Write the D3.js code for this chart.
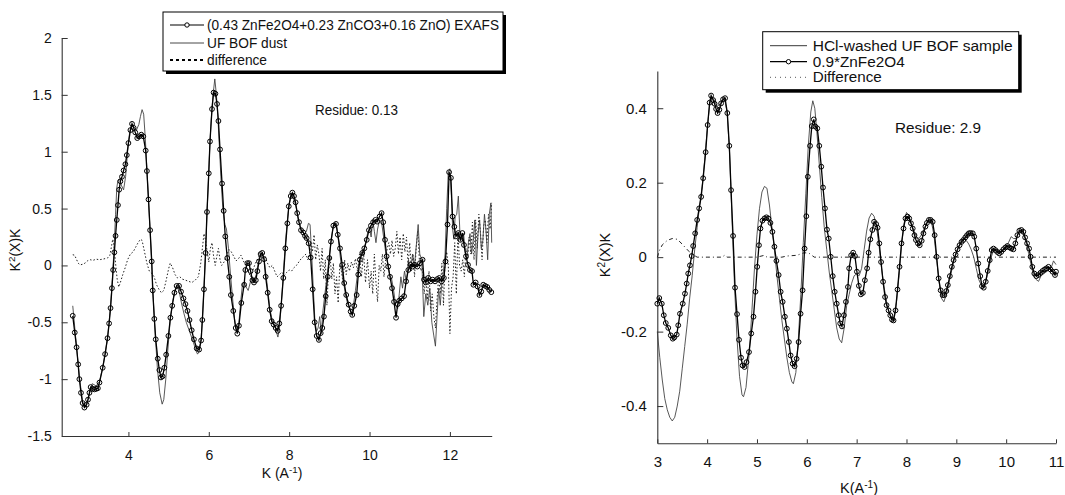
<!DOCTYPE html>
<html><head><meta charset="utf-8">
<script src="https://cdn.jsdelivr.net/npm/d3@7"></script>
<style>
body{margin:0;background:#fff}
svg text{font-family:"Liberation Sans",Arial,Helvetica,sans-serif;fill:#111}
</style>
</head><body>
<svg id="chart" width="1065" height="495"></svg>
<script>
// ---------------- DATA ----------------
// Left panel: Zn K-edge EXAFS of UF BOF dust
const leftFitLabel = "(0.43 ZnFe2O4+0.23 ZnCO3+0.16 ZnO) EXAFS";
const leftDataLabel = "UF BOF dust";
const leftDiffLabel = "difference";
const leftResidue = "Residue: 0.13";
const leftXTicks = [4, 6, 8, 10, 12];
const leftYTicks = [-1.5, -1, -0.5, 0, 0.5, 1, 1.5, 2];

const leftFit = [[2.615,-0.443],[2.665,-0.59],[2.71,-0.72],[2.75,-0.87],[2.78,-1.0],[2.82,-1.12],[2.86,-1.21],[2.905,-1.25],[2.96,-1.225],[2.995,-1.18],[3.03,-1.12],[3.06,-1.07],[3.11,-1.085],[3.155,-1.09],[3.20,-1.085],[3.24,-1.08],[3.28,-1.03],[3.36,-0.90],[3.42,-0.78],[3.48,-0.64],[3.52,-0.51],[3.555,-0.375],[3.59,-0.20],[3.62,-0.04],[3.65,0.115],[3.68,0.26],[3.71,0.40],[3.74,0.53],[3.77,0.666],[3.80,0.74],[3.84,0.78],[3.88,0.835],[3.925,0.89],[3.96,0.97],[4.0,1.076],[4.05,1.19],[4.09,1.245],[4.13,1.21],[4.17,1.17],[4.22,1.12],[4.27,1.135],[4.32,1.15],[4.37,1.135],[4.43,1.01],[4.46,0.83],[4.50,0.58],[4.54,0.31],[4.58,0.035],[4.605,-0.22],[4.645,-0.47],[4.68,-0.65],[4.73,-0.82],[4.77,-0.92],[4.81,-0.985],[4.85,-0.975],[4.895,-0.90],[4.94,-0.785],[4.995,-0.62],[5.045,-0.46],[5.09,-0.355],[5.145,-0.24],[5.20,-0.18],[5.26,-0.18],[5.31,-0.23],[5.37,-0.29],[5.42,-0.34],[5.47,-0.40],[5.52,-0.48],[5.575,-0.57],[5.63,-0.65],[5.70,-0.73],[5.76,-0.74],[5.81,-0.66],[5.84,-0.48],[5.88,-0.21],[5.92,0.11],[5.955,0.47],[6.0,0.81],[6.03,1.09],[6.08,1.375],[6.12,1.52],[6.165,1.51],[6.205,1.42],[6.24,1.27],[6.28,1.02],[6.33,0.72],[6.37,0.48],[6.41,0.255],[6.46,0.065],[6.51,-0.10],[6.55,-0.26],[6.61,-0.40],[6.67,-0.55],[6.71,-0.60],[6.75,-0.53],[6.81,-0.33],[6.88,-0.17],[6.91,-0.04],[6.96,0.02],[7.0,0.02],[7.04,-0.05],[7.085,-0.13],[7.125,-0.15],[7.17,-0.13],[7.21,-0.05],[7.25,0.035],[7.29,0.10],[7.33,0.11],[7.375,0.055],[7.415,-0.10],[7.465,-0.24],[7.515,-0.39],[7.565,-0.49],[7.615,-0.52],[7.665,-0.55],[7.715,-0.575],[7.755,-0.51],[7.80,-0.355],[7.855,-0.11],[7.905,0.15],[7.955,0.37],[7.99,0.52],[8.04,0.61],[8.08,0.64],[8.12,0.61],[8.16,0.555],[8.20,0.46],[8.245,0.38],[8.295,0.31],[8.35,0.29],[8.395,0.26],[8.435,0.24],[8.485,0.195],[8.535,0.07],[8.585,-0.21],[8.635,-0.50],[8.685,-0.62],[8.74,-0.655],[8.785,-0.595],[8.825,-0.55],[8.865,-0.45],[8.91,-0.27],[8.96,-0.10],[9.0,0.065],[9.04,0.21],[9.10,0.35],[9.165,0.365],[9.21,0.27],[9.265,0.15],[9.32,0.005],[9.37,-0.155],[9.42,-0.26],[9.48,-0.345],[9.53,-0.405],[9.57,-0.435],[9.62,-0.355],[9.68,-0.26],[9.72,-0.08],[9.76,0.05],[9.82,0.11],[9.87,0.15],[9.93,0.225],[9.985,0.31],[10.035,0.35],[10.09,0.38],[10.145,0.40],[10.19,0.385],[10.25,0.43],[10.30,0.46],[10.34,0.38],[10.385,0.225],[10.425,0.08],[10.465,-0.01],[10.51,-0.10],[10.56,-0.20],[10.61,-0.32],[10.66,-0.46],[10.70,-0.34],[10.74,-0.31],[10.80,-0.29],[10.86,-0.27],[10.91,-0.14],[10.965,-0.04],[11.02,0.005],[11.07,-0.01],[11.13,0.005],[11.19,-0.01],[11.255,0.02],[11.32,0.05],[11.355,-0.125],[11.40,-0.15],[11.46,-0.11],[11.52,-0.14],[11.57,-0.125],[11.63,-0.14],[11.685,-0.12],[11.735,-0.11],[11.795,-0.14],[11.85,-0.11],[11.89,0.035],[11.94,0.36],[11.98,0.82],[12.025,0.77],[12.065,0.43],[12.11,0.34],[12.15,0.255],[12.21,0.285],[12.26,0.225],[12.31,0.285],[12.35,0.18],[12.40,0.08],[12.45,0.005],[12.50,-0.04],[12.55,-0.05],[12.585,-0.17],[12.64,-0.15],[12.69,-0.185],[12.735,-0.26],[12.78,-0.23],[12.83,-0.17],[12.88,-0.18],[12.93,-0.19],[12.98,-0.215],[13.03,-0.235]];

const leftData = [[2.615,-0.355],[2.70,-0.68],[2.78,-0.98],[2.86,-1.20],[2.91,-1.24],[2.97,-1.21],[3.05,-1.10],[3.10,-1.04],[3.20,-1.06],[3.28,-1.02],[3.36,-0.90],[3.42,-0.78],[3.48,-0.64],[3.52,-0.50],[3.555,-0.36],[3.59,-0.18],[3.62,0.0],[3.65,0.20],[3.68,0.45],[3.71,0.68],[3.74,0.75],[3.78,0.76],[3.83,0.70],[3.88,0.665],[3.93,0.78],[3.98,1.0],[4.03,1.17],[4.08,1.24],[4.14,1.22],[4.20,1.19],[4.26,1.24],[4.30,1.31],[4.34,1.37],[4.38,1.33],[4.42,1.12],[4.46,0.85],[4.50,0.57],[4.54,0.30],[4.58,0.02],[4.62,-0.30],[4.67,-0.62],[4.72,-0.90],[4.78,-1.12],[4.84,-1.22],[4.88,-1.18],[4.93,-1.00],[4.98,-0.75],[5.04,-0.48],[5.10,-0.32],[5.16,-0.22],[5.22,-0.19],[5.27,-0.24],[5.32,-0.33],[5.38,-0.42],[5.44,-0.50],[5.50,-0.56],[5.56,-0.62],[5.62,-0.68],[5.68,-0.75],[5.72,-0.78],[5.77,-0.75],[5.81,-0.64],[5.85,-0.42],[5.89,-0.12],[5.93,0.22],[5.97,0.58],[6.01,0.92],[6.05,1.22],[6.10,1.48],[6.15,1.64],[6.19,1.50],[6.23,1.28],[6.27,1.00],[6.31,0.72],[6.35,0.50],[6.40,0.36],[6.44,0.32],[6.49,0.15],[6.54,-0.08],[6.60,-0.32],[6.65,-0.50],[6.70,-0.58],[6.75,-0.50],[6.80,-0.30],[6.84,-0.16],[6.88,-0.15],[6.93,-0.19],[6.98,-0.22],[7.04,-0.14],[7.09,-0.10],[7.13,-0.13],[7.18,-0.08],[7.22,0.0],[7.27,0.08],[7.32,0.10],[7.37,0.07],[7.42,-0.07],[7.47,-0.22],[7.52,-0.38],[7.57,-0.47],[7.62,-0.50],[7.67,-0.57],[7.72,-0.63],[7.76,-0.55],[7.80,-0.36],[7.85,-0.10],[7.90,0.16],[7.95,0.38],[8.00,0.53],[8.05,0.62],[8.09,0.60],[8.13,0.57],[8.18,0.50],[8.23,0.40],[8.28,0.34],[8.33,0.30],[8.38,0.28],[8.43,0.30],[8.48,0.37],[8.52,0.36],[8.56,0.10],[8.60,-0.20],[8.64,-0.48],[8.68,-0.58],[8.72,-0.55],[8.76,-0.45],[8.80,-0.60],[8.84,-0.40],[8.89,-0.25],[8.94,-0.10],[8.99,0.05],[9.04,0.20],[9.09,0.33],[9.14,0.38],[9.19,0.33],[9.24,0.18],[9.29,0.02],[9.34,-0.12],[9.40,-0.25],[9.45,-0.33],[9.50,-0.38],[9.55,-0.42],[9.60,-0.35],[9.65,-0.22],[9.70,-0.08],[9.75,0.05],[9.80,0.12],[9.85,0.08],[9.90,0.20],[9.95,0.28],[10.00,0.32],[10.04,0.25],[10.08,0.40],[10.12,0.30],[10.16,0.20],[10.20,0.32],[10.25,0.40],[10.30,0.38],[10.35,0.25],[10.40,0.12],[10.45,0.02],[10.50,-0.08],[10.55,-0.12],[10.60,-0.22],[10.65,-0.35],[10.70,-0.38],[10.74,-0.25],[10.78,-0.10],[10.82,-0.20],[10.87,-0.05],[10.92,-0.15],[10.97,0.05],[11.02,-0.05],[11.07,0.10],[11.12,0.0],[11.17,0.20],[11.21,0.36],[11.25,0.10],[11.30,0.05],[11.35,-0.45],[11.40,-0.25],[11.45,-0.35],[11.50,-0.20],[11.55,-0.50],[11.60,-0.62],[11.64,-0.71],[11.68,-0.45],[11.72,-0.20],[11.76,-0.35],[11.80,-0.15],[11.84,-0.05],[11.88,0.10],[11.92,0.50],[11.96,0.82],[12.00,0.85],[12.04,0.59],[12.07,0.31],[12.10,0.23],[12.13,0.43],[12.17,0.45],[12.21,0.61],[12.25,0.28],[12.30,0.22],[12.34,0.28],[12.38,0.12],[12.42,0.05],[12.46,0.20],[12.50,0.28],[12.54,0.10],[12.58,0.22],[12.62,0.40],[12.66,0.0],[12.70,0.28],[12.74,0.40],[12.78,0.15],[12.82,0.22],[12.86,0.45],[12.90,0.30],[12.94,0.05],[12.98,0.45],[13.02,0.55],[13.04,0.20]];

const leftDiff = [[2.615,0.094],[2.66,0.09],[2.70,0.06],[2.75,0.02],[2.80,0.005],[2.86,0.01],[2.92,0.02],[2.98,0.04],[3.05,0.05],[3.12,0.045],[3.20,0.055],[3.28,0.05],[3.36,0.055],[3.42,0.06],[3.48,0.065],[3.54,0.09],[3.58,0.17],[3.61,0.23],[3.64,0.18],[3.68,0.02],[3.72,-0.12],[3.76,-0.19],[3.80,-0.15],[3.86,-0.08],[3.92,-0.02],[3.98,0.05],[4.05,0.10],[4.12,0.12],[4.18,0.16],[4.24,0.20],[4.30,0.23],[4.34,0.22],[4.40,0.12],[4.46,0.02],[4.52,-0.05],[4.58,-0.07],[4.64,-0.10],[4.70,-0.17],[4.76,-0.21],[4.82,-0.24],[4.88,-0.22],[4.94,-0.13],[5.00,-0.03],[5.04,0.02],[5.10,-0.02],[5.16,-0.08],[5.22,-0.11],[5.28,-0.10],[5.34,-0.12],[5.42,-0.13],[5.50,-0.14],[5.58,-0.15],[5.66,-0.13],[5.74,-0.10],[5.80,0.02],[5.85,0.18],[5.88,0.28],[5.92,0.22],[5.96,0.12],[6.00,0.03],[6.04,0.15],[6.08,0.20],[6.12,0.08],[6.16,0.0],[6.20,0.08],[6.24,0.15],[6.28,0.05],[6.32,0.0],[6.38,0.03],[6.44,0.08],[6.50,0.14],[6.56,0.12],[6.62,0.08],[6.68,0.04],[6.74,0.06],[6.80,0.09],[6.86,0.04],[6.92,0.0],[6.98,-0.05],[7.04,-0.10],[7.10,-0.04],[7.16,0.02],[7.22,0.06],[7.28,0.10],[7.34,0.05],[7.40,0.08],[7.46,0.02],[7.52,-0.02],[7.58,0.0],[7.64,-0.05],[7.70,-0.10],[7.76,-0.08],[7.82,-0.06],[7.88,-0.09],[7.94,-0.06],[8.00,-0.04],[8.06,-0.05],[8.12,-0.02],[8.18,0.0],[8.24,0.03],[8.30,0.06],[8.36,0.08],[8.42,0.10],[8.46,0.05],[8.50,0.08],[8.54,0.20],[8.58,0.12],[8.62,0.27],[8.66,0.05],[8.70,0.18],[8.74,0.10],[8.78,-0.05],[8.82,0.15],[8.86,-0.12],[8.90,0.05],[8.94,-0.35],[8.98,-0.05],[9.02,0.08],[9.06,-0.12],[9.10,0.02],[9.14,-0.25],[9.18,-0.10],[9.22,-0.33],[9.26,0.0],[9.30,-0.05],[9.34,-0.15],[9.38,0.05],[9.42,-0.08],[9.46,0.02],[9.50,-0.05],[9.55,0.03],[9.60,-0.02],[9.65,0.06],[9.70,-0.05],[9.75,0.10],[9.80,-0.10],[9.85,0.12],[9.90,-0.15],[9.95,0.05],[10.00,-0.20],[10.04,-0.05],[10.08,-0.25],[10.12,0.10],[10.16,-0.15],[10.20,-0.32],[10.24,0.0],[10.28,-0.05],[10.32,0.10],[10.36,-0.10],[10.40,0.05],[10.44,0.15],[10.48,0.20],[10.52,0.10],[10.56,0.22],[10.60,0.08],[10.64,0.15],[10.68,0.30],[10.72,0.10],[10.76,0.25],[10.80,0.05],[10.84,0.28],[10.88,0.12],[10.92,0.25],[10.96,0.0],[11.00,0.20],[11.04,-0.05],[11.08,0.10],[11.12,-0.10],[11.16,0.15],[11.20,0.30],[11.24,0.05],[11.28,-0.05],[11.32,-0.02],[11.36,-0.25],[11.40,-0.10],[11.44,-0.30],[11.48,-0.05],[11.52,-0.40],[11.56,-0.25],[11.60,-0.45],[11.64,-0.55],[11.68,-0.30],[11.72,-0.10],[11.76,-0.25],[11.80,0.02],[11.84,-0.35],[11.88,0.05],[11.92,0.12],[11.96,0.0],[12.00,-0.60],[12.04,-0.20],[12.08,-0.10],[12.12,0.20],[12.16,-0.25],[12.20,0.30],[12.24,0.0],[12.28,-0.05],[12.32,0.05],[12.36,-0.10],[12.40,0.15],[12.44,0.05],[12.48,0.25],[12.52,0.10],[12.56,0.38],[12.60,0.05],[12.64,0.40],[12.68,0.15],[12.72,0.45],[12.76,0.30],[12.80,0.05],[12.84,0.35],[12.88,0.40],[12.92,0.20],[12.96,0.45],[13.00,0.32],[13.04,0.55]];

// Right panel: HCl-washed sample vs scaled ZnFe2O4
const rightDataLabel = "HCl-washed UF BOF sample";
const rightFitLabel = "0.9*ZnFe2O4";
const rightDiffLabel = "Difference";
const rightResidue = "Residue: 2.9";
const rightXTicks = [3, 4, 5, 6, 7, 8, 9, 10, 11];
const rightYTicks = [-0.4, -0.2, 0, 0.2, 0.4];

const rightFit = [[3.0,-0.125],[3.04,-0.11],[3.09,-0.125],[3.13,-0.156],[3.17,-0.177],[3.22,-0.19],[3.27,-0.21],[3.31,-0.219],[3.34,-0.216],[3.39,-0.208],[3.42,-0.183],[3.455,-0.152],[3.51,-0.125],[3.555,-0.098],[3.59,-0.071],[3.62,-0.044],[3.655,-0.022],[3.69,0.003],[3.72,0.03],[3.76,0.064],[3.80,0.10],[3.84,0.131],[3.88,0.162],[3.92,0.212],[3.97,0.282],[4.01,0.355],[4.05,0.415],[4.08,0.434],[4.12,0.422],[4.15,0.412],[4.18,0.398],[4.21,0.387],[4.245,0.396],[4.28,0.413],[4.32,0.424],[4.36,0.427],[4.405,0.387],[4.445,0.299],[4.48,0.18],[4.52,0.057],[4.56,-0.082],[4.60,-0.153],[4.64,-0.222],[4.68,-0.27],[4.71,-0.291],[4.75,-0.295],[4.79,-0.282],[4.84,-0.255],[4.885,-0.205],[4.93,-0.16],[4.97,-0.093],[5.005,-0.026],[5.04,0.032],[5.07,0.077],[5.11,0.098],[5.15,0.104],[5.19,0.107],[5.23,0.104],[5.27,0.092],[5.31,0.068],[5.35,0.028],[5.39,-0.01],[5.435,-0.048],[5.475,-0.093],[5.515,-0.12],[5.56,-0.16],[5.60,-0.192],[5.64,-0.228],[5.675,-0.264],[5.715,-0.286],[5.755,-0.293],[5.795,-0.273],[5.835,-0.228],[5.875,-0.152],[5.915,-0.089],[5.955,0.023],[5.99,0.11],[6.02,0.216],[6.065,0.299],[6.10,0.352],[6.14,0.37],[6.17,0.351],[6.21,0.346],[6.25,0.299],[6.29,0.243],[6.325,0.187],[6.365,0.131],[6.405,0.074],[6.44,0.05],[6.48,0.001],[6.52,-0.051],[6.56,-0.093],[6.60,-0.125],[6.64,-0.156],[6.67,-0.178],[6.705,-0.186],[6.745,-0.156],[6.785,-0.12],[6.825,-0.08],[6.85,-0.03],[6.89,0.005],[6.93,0.012],[6.965,0.003],[7.005,-0.039],[7.045,-0.077],[7.085,-0.1],[7.125,-0.096],[7.165,-0.062],[7.21,-0.03],[7.24,0.012],[7.275,0.048],[7.315,0.073],[7.35,0.095],[7.39,0.089],[7.42,0.079],[7.455,0.037],[7.49,-0.013],[7.53,-0.066],[7.57,-0.107],[7.60,-0.129],[7.64,-0.143],[7.675,-0.156],[7.71,-0.168],[7.74,-0.17],[7.78,-0.143],[7.82,-0.087],[7.86,-0.026],[7.90,0.037],[7.94,0.077],[7.98,0.104],[8.02,0.109],[8.055,0.104],[8.09,0.091],[8.125,0.077],[8.16,0.059],[8.19,0.046],[8.23,0.037],[8.265,0.032],[8.305,0.044],[8.34,0.064],[8.38,0.082],[8.41,0.092],[8.45,0.1],[8.485,0.1],[8.525,0.095],[8.565,0.059],[8.605,0.001],[8.645,-0.057],[8.685,-0.089],[8.725,-0.102],[8.76,-0.102],[8.80,-0.091],[8.83,-0.075],[8.87,-0.051],[8.91,-0.026],[8.945,-0.008],[8.985,0.007],[9.025,0.021],[9.065,0.032],[9.105,0.041],[9.14,0.046],[9.18,0.053],[9.215,0.059],[9.25,0.064],[9.285,0.065],[9.33,0.064],[9.36,0.055],[9.40,0.023],[9.44,-0.017],[9.48,-0.051],[9.515,-0.078],[9.55,-0.082],[9.59,-0.066],[9.63,-0.037],[9.67,-0.008],[9.71,0.019],[9.745,0.023],[9.785,0.019],[9.82,0.014],[9.86,0.01],[9.90,0.014],[9.945,0.021],[9.985,0.026],[10.025,0.03],[10.065,0.026],[10.105,0.023],[10.145,0.021],[10.185,0.037],[10.225,0.059],[10.265,0.071],[10.305,0.073],[10.345,0.068],[10.38,0.053],[10.42,0.037],[10.46,0.023],[10.49,0.001],[10.525,-0.026],[10.565,-0.044],[10.605,-0.051],[10.645,-0.048],[10.69,-0.042],[10.73,-0.037],[10.77,-0.033],[10.81,-0.03],[10.85,-0.026],[10.89,-0.033],[10.93,-0.039],[10.98,-0.048],[11.0,-0.039]];

const rightData = [[3.0,-0.20],[3.05,-0.27],[3.1,-0.33],[3.15,-0.38],[3.2,-0.41],[3.25,-0.43],[3.3,-0.44],[3.35,-0.43],[3.4,-0.40],[3.45,-0.36],[3.5,-0.30],[3.55,-0.24],[3.6,-0.18],[3.65,-0.11],[3.7,-0.05],[3.75,0.02],[3.8,0.08],[3.85,0.14],[3.9,0.19],[3.95,0.26],[4.0,0.34],[4.05,0.41],[4.1,0.43],[4.15,0.42],[4.2,0.405],[4.25,0.41],[4.3,0.42],[4.35,0.425],[4.4,0.39],[4.45,0.28],[4.5,0.10],[4.55,-0.08],[4.6,-0.22],[4.65,-0.32],[4.7,-0.37],[4.73,-0.375],[4.78,-0.35],[4.85,-0.25],[4.9,-0.14],[4.95,-0.03],[5.0,0.06],[5.05,0.13],[5.1,0.175],[5.15,0.19],[5.2,0.185],[5.25,0.14],[5.3,0.08],[5.35,0.02],[5.4,-0.05],[5.45,-0.11],[5.5,-0.17],[5.55,-0.22],[5.6,-0.27],[5.65,-0.31],[5.7,-0.335],[5.73,-0.34],[5.78,-0.31],[5.83,-0.22],[5.88,-0.10],[5.93,0.04],[5.98,0.17],[6.03,0.30],[6.08,0.39],[6.12,0.42],[6.16,0.40],[6.2,0.34],[6.25,0.25],[6.3,0.16],[6.35,0.08],[6.4,0.02],[6.45,-0.04],[6.5,-0.09],[6.55,-0.14],[6.6,-0.19],[6.65,-0.22],[6.7,-0.23],[6.75,-0.19],[6.8,-0.13],[6.85,-0.10],[6.9,-0.07],[6.95,-0.05],[7.0,-0.045],[7.05,-0.05],[7.1,-0.03],[7.15,0.02],[7.2,0.07],[7.25,0.105],[7.3,0.118],[7.35,0.11],[7.4,0.08],[7.45,0.03],[7.5,-0.03],[7.55,-0.08],[7.6,-0.12],[7.65,-0.15],[7.7,-0.165],[7.75,-0.16],[7.8,-0.12],[7.85,-0.05],[7.9,0.03],[7.95,0.09],[8.0,0.12],[8.05,0.11],[8.1,0.09],[8.15,0.07],[8.2,0.055],[8.25,0.05],[8.3,0.06],[8.35,0.075],[8.4,0.09],[8.45,0.10],[8.5,0.095],[8.55,0.06],[8.6,0.0],[8.65,-0.06],[8.7,-0.11],[8.75,-0.12],[8.8,-0.10],[8.85,-0.07],[8.9,-0.04],[8.95,-0.01],[9.0,0.01],[9.05,0.03],[9.1,0.045],[9.15,0.05],[9.2,0.045],[9.25,0.035],[9.3,0.02],[9.35,0.0],[9.4,-0.03],[9.45,-0.06],[9.5,-0.075],[9.55,-0.08],[9.6,-0.06],[9.65,-0.03],[9.7,0.0],[9.75,0.02],[9.8,0.02],[9.85,0.015],[9.9,0.015],[9.95,0.02],[10.0,0.03],[10.05,0.04],[10.1,0.055],[10.15,0.05],[10.2,0.05],[10.25,0.065],[10.3,0.07],[10.35,0.06],[10.4,0.04],[10.45,0.01],[10.5,-0.02],[10.55,-0.05],[10.6,-0.06],[10.65,-0.065],[10.7,-0.05],[10.8,-0.04],[10.9,-0.03],[10.95,-0.01],[11.0,-0.02]];

const rightDiff = [[3.0,0.0],[3.05,0.02],[3.1,0.033],[3.2,0.045],[3.3,0.05],[3.4,0.048],[3.5,0.035],[3.6,0.02],[3.7,0.008],[3.8,0.0],[4.0,0.0],[4.3,0.0],[4.35,0.005],[4.4,0.0],[5.0,0.0],[5.15,0.005],[5.2,0.0],[5.5,0.0],[5.6,0.003],[5.8,0.005],[5.95,0.012],[6.05,0.01],[6.15,0.0],[6.5,0.0],[7.0,0.0],[8.0,0.0],[9.0,0.0],[10.0,0.0],[11.0,0.0]];

// ---------------- DRAW ----------------
const svg = d3.select("#chart");
const fmt = d => String(d);

function panel(cfg) {
  const x = d3.scaleLinear().domain(cfg.xDomain).range(cfg.xRange);
  const y = d3.scaleLinear().domain(cfg.yDomain).range(cfg.yRange);
  const g = svg.append("g");
  const line = d3.line().x(d => x(d[0])).y(d => y(d[1]));

  const ax = g.append("g").attr("transform", `translate(0,${cfg.yRange[0]})`)
    .call(d3.axisBottom(x).tickValues(cfg.xTicks).tickFormat(fmt)
      .tickSizeInner(-cfg.xTickLen).tickSizeOuter(0).tickPadding(cfg.xPad));
  const ay = g.append("g").attr("transform", `translate(${cfg.xRange[0]},0)`)
    .call(d3.axisLeft(y).tickValues(cfg.yTicks).tickFormat(fmt)
      .tickSizeInner(-cfg.yTickLen).tickSizeOuter(0).tickPadding(cfg.yPad));
  [ax, ay].forEach(a => {
    a.select(".domain").attr("stroke", "#333").attr("stroke-width", 1.1);
    a.selectAll(".tick line").attr("stroke", "#333");
    a.selectAll(".tick text").attr("font-size", cfg.tickFont).attr("fill", "#111")
      .attr("font-family", "Liberation Sans, Arial, sans-serif");
  });

  g.append("path").datum(cfg.diff).attr("d", line).attr("fill", "none")
    .attr("stroke", cfg.diffColor).attr("stroke-width", 1).attr("stroke-dasharray", cfg.diffDash);
  g.append("path").datum(cfg.data).attr("d", line).attr("fill", "none")
    .attr("stroke", "#3a3a3a").attr("stroke-width", 0.85);
  g.append("path").datum(cfg.fit).attr("d", line).attr("fill", "none")
    .attr("stroke", "#000").attr("stroke-width", 1.3);
  g.append("g").selectAll("circle").data(cfg.fit).join("circle")
    .attr("cx", d => x(d[0])).attr("cy", d => y(d[1])).attr("r", 2.4)
    .attr("fill", "none").attr("stroke", "#000").attr("stroke-width", 1);

  const yt = g.append("text").attr("transform", `translate(${cfg.yTitlePos[0]},${cfg.yTitlePos[1]}) rotate(-90)`)
    .attr("text-anchor", "middle").attr("font-size", cfg.titleFont);
  yt.append("tspan").text("K");
  yt.append("tspan").attr("font-size", cfg.titleFont * 0.7).attr("dy", -5).text("2");
  yt.append("tspan").attr("dy", 5).text("(X)K");
  const xt = g.append("text").attr("x", cfg.xTitlePos[0]).attr("y", cfg.xTitlePos[1])
    .attr("text-anchor", "middle").attr("font-size", cfg.titleFont);
  xt.append("tspan").text(cfg.xTitleMain);
  xt.append("tspan").attr("font-size", cfg.titleFont * 0.7).attr("dy", -5).text("-1");
  xt.append("tspan").attr("dy", 5).text(")");

  g.append("text").attr("x", cfg.residuePos[0]).attr("y", cfg.residuePos[1])
    .attr("font-size", cfg.residueFont).attr("textLength", cfg.residueLen)
    .attr("lengthAdjust", "spacingAndGlyphs").text(cfg.residue);

  const L = cfg.legend;
  g.append("rect").attr("x", L.x + 3).attr("y", L.y + 3).attr("width", L.w).attr("height", L.h).attr("fill", "#000");
  g.append("rect").attr("x", L.x).attr("y", L.y).attr("width", L.w).attr("height", L.h)
    .attr("fill", "#fff").attr("stroke", "#000").attr("stroke-width", 1);
  L.items.forEach((it, i) => {
    const yy = L.rows[i];
    const ln = g.append("line").attr("x1", L.sx0).attr("x2", L.sx1).attr("y1", yy).attr("y2", yy)
      .attr("stroke", it.color).attr("stroke-width", it.width);
    if (it.dash) ln.attr("stroke-dasharray", it.dash);
    if (it.marker) g.append("circle").attr("cx", (L.sx0 + L.sx1) / 2).attr("cy", yy).attr("r", 2.2)
      .attr("fill", "#fff").attr("stroke", "#000").attr("stroke-width", 1);
    g.append("text").attr("x", L.tx).attr("y", yy + 5).attr("font-size", L.font)
      .attr("textLength", it.len).attr("lengthAdjust", "spacingAndGlyphs").text(it.label);
  });
}

panel({
  xDomain: [2.34, 13.04], xRange: [61.7, 491.7],
  yDomain: [-1.5, 2], yRange: [436, 38],
  xTicks: leftXTicks, yTicks: leftYTicks,
  xTickLen: 4, yTickLen: 6, xPad: 14, yPad: 10, tickFont: 14,
  fit: leftFit, data: leftData, diff: leftDiff,
  diffColor: "#222", diffDash: "1.5,2",
  yTitlePos: [20, 250], xTitlePos: [282, 478], xTitleMain: "K (A", titleFont: 14,
  residue: leftResidue, residuePos: [315, 115], residueFont: 14, residueLen: 83,
  legend: {
    x: 163, y: 12, w: 340, h: 59, sx0: 170, sx1: 204, tx: 207, font: 14.5,
    rows: [25, 43, 60],
    items: [
      {label: leftFitLabel, color: "#000", width: 1.2, marker: true, len: 292},
      {label: leftDataLabel, color: "#333", width: 0.9, len: 80},
      {label: leftDiffLabel, color: "#000", width: 2.2, dash: "3,3", len: 60}
    ]
  }
});

panel({
  xDomain: [3, 11], xRange: [657.3, 1056],
  yDomain: [-0.5, 0.5], yRange: [443.3, 71],
  xTicks: rightXTicks, yTicks: rightYTicks,
  xTickLen: 4, yTickLen: 6, xPad: 13.5, yPad: 10.5, tickFont: 15,
  fit: rightFit, data: rightData, diff: rightDiff,
  diffColor: "#222", diffDash: "4,3,1,3",
  yTitlePos: [610, 255], xTitlePos: [859, 493], xTitleMain: "K(A", titleFont: 14.5,
  residue: rightResidue, residuePos: [895, 133], residueFont: 15, residueLen: 86,
  legend: {
    x: 762.7, y: 31.7, w: 256, h: 58, sx0: 770, sx1: 807, tx: 812.7, font: 15.5,
    rows: [45.7, 61.7, 77.3],
    items: [
      {label: rightDataLabel, color: "#222", width: 0.9, len: 200},
      {label: rightFitLabel, color: "#000", width: 1.2, marker: true, len: 92},
      {label: rightDiffLabel, color: "#555", width: 1, dash: "1,4", len: 69}
    ]
  }
});
</script>
</body></html>
